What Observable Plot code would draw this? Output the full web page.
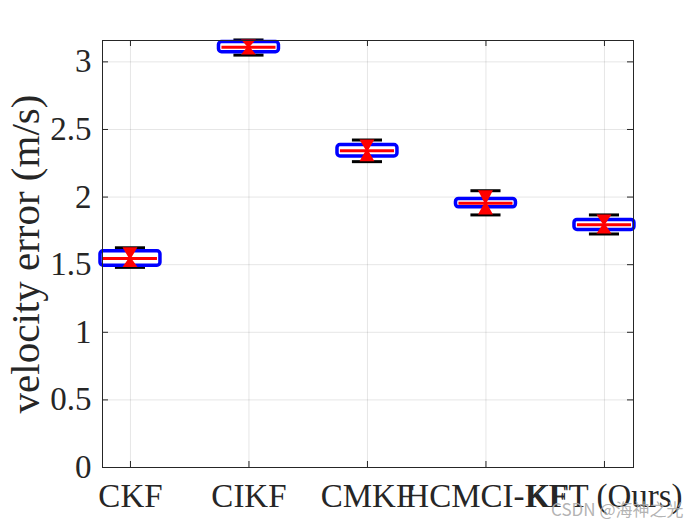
<!DOCTYPE html>
<html>
<head>
<meta charset="utf-8">
<script src="https://cdn.jsdelivr.net/npm/d3@7"></script>
<script src="https://cdn.jsdelivr.net/npm/@observablehq/plot@0.6"></script>
<style>
  html, body { margin: 0; padding: 0; background: #fff; }
</style>
</head>
<body>
<div id="chart"></div>
<script>
// Data
const methods = ["CKF", "CIKF", "CMKF", "HCMCI-KF", "KFT (Ours)"];
const whiskerLow  = [1.48, 3.05, 2.262, 1.868, 1.727];
const q1          = [1.493, 3.072, 2.301, 1.924, 1.757];
const medians     = [1.545, 3.108, 2.343, 1.955, 1.796];
const q3          = [1.599, 3.146, 2.385, 1.986, 1.831];
const whiskerHigh = [1.625, 3.162, 2.422, 2.047, 1.868];
const yTicks = [0, 0.5, 1, 1.5, 2, 2.5, 3];
const xTicks = [1, 2, 3, 4, 5];
const yLabel = "velocity error (m/s)";
const watermark = "CSDN @海神之光";

const rows = methods.map((m, i) => ({
  m, x: i + 1, lo: whiskerLow[i], q1: q1[i], med: medians[i], q3: q3[i], hi: whiskerHigh[i]
}));

const xDom = [0.764, 5.245];
const yDom = [0, 3.158];
const boxHalf = 0.253, capHalf = 0.127, hgHalf = 0.063;
// inward tick lengths (6px) in data units
const tickLenY = 6 / (427 / (yDom[1] - yDom[0]));
const tickLenX = 6 / (531 / (xDom[1] - xDom[0]));

// hourglass outline per category (from whisker ends, narrowing at the median)
const hourglass = rows.flatMap(r => [
  {m: r.m, y: r.hi, x1: r.x - hgHalf, x2: r.x + hgHalf},
  {m: r.m, y: r.med, x1: r.x - hgHalf * 0.15, x2: r.x + hgHalf * 0.15},
  {m: r.m, y: r.lo, x1: r.x - hgHalf, x2: r.x + hgHalf}
]);

const font = "'Liberation Serif', 'Times New Roman', serif";

const chart = Plot.plot({
  width: 700,
  height: 525,
  marginLeft: 102,
  marginRight: 67,
  marginTop: 40,
  marginBottom: 58,
  style: {fontFamily: font, background: "#fff", color: "#262626"},
  x: {domain: xDom, ticks: xTicks},
  y: {domain: yDom, ticks: yTicks},
  marks: [
    Plot.gridX(xTicks, {stroke: "#000", strokeOpacity: 0.1}),
    Plot.gridY(yTicks, {stroke: "#000", strokeOpacity: 0.1}),
    Plot.axisY(yTicks, {tickSize: 0, tickPadding: 11, fontSize: 33, label: null, tickFormat: d => String(d), fill: "#262626"}),
    Plot.axisX(xTicks, {tickSize: 0, tickPadding: 16, fontSize: 33, label: null, tickFormat: d => methods[d - 1], fill: "#262626"}),
    // inward ticks
    Plot.ruleX(xTicks, {x: d => d, y1: yDom[0], y2: yDom[0] + tickLenY, stroke: "#262626"}),
    Plot.ruleX(xTicks, {x: d => d, y1: yDom[1], y2: yDom[1] - tickLenY, stroke: "#262626"}),
    Plot.ruleY(yTicks, {y: d => d, x1: xDom[0], x2: xDom[0] + tickLenX, stroke: "#262626"}),
    Plot.ruleY(yTicks, {y: d => d, x1: xDom[1], x2: xDom[1] - tickLenX, stroke: "#262626"}),
    // whiskers
    Plot.ruleX(rows, {x: "x", y1: "lo", y2: "hi", stroke: "black", strokeWidth: 2}),
    Plot.ruleY(rows, {y: "hi", x1: d => d.x - capHalf, x2: d => d.x + capHalf, stroke: "black", strokeWidth: 3}),
    Plot.ruleY(rows, {y: "lo", x1: d => d.x - capHalf, x2: d => d.x + capHalf, stroke: "black", strokeWidth: 3}),
    // boxes
    Plot.rect(rows, {x1: d => d.x - boxHalf, x2: d => d.x + boxHalf, y1: "q1", y2: "q3",
      fill: "white", stroke: "#0000ff", strokeWidth: 3.5, rx: 3}),
    // medians
    Plot.ruleY(rows, {y: "med", x1: d => d.x - boxHalf + 0.025, x2: d => d.x + boxHalf - 0.025, stroke: "#ff0000", strokeWidth: 3}),
    // red hourglass markers
    Plot.areaX(hourglass, {y: "y", x1: "x1", x2: "x2", z: "m", fill: "#ff0000", curve: "linear"}),
    Plot.frame({stroke: "#262626"}),
    Plot.text([yLabel], {frameAnchor: "left", textAnchor: "middle", lineAnchor: "middle", rotate: -90, dx: -77, fontSize: 41, fill: "#262626", fontFamily: font}),
    Plot.text([watermark], {frameAnchor: "bottom-right", dx: 50, dy: 48, textAnchor: "end", lineAnchor: "bottom",
      fontSize: 17, fill: "#aaa", fillOpacity: 0.9, fontFamily: "'Noto Sans CJK SC', 'Noto Sans', sans-serif"})
  ]
});
document.getElementById("chart").appendChild(chart);
</script>
</body>
</html>
